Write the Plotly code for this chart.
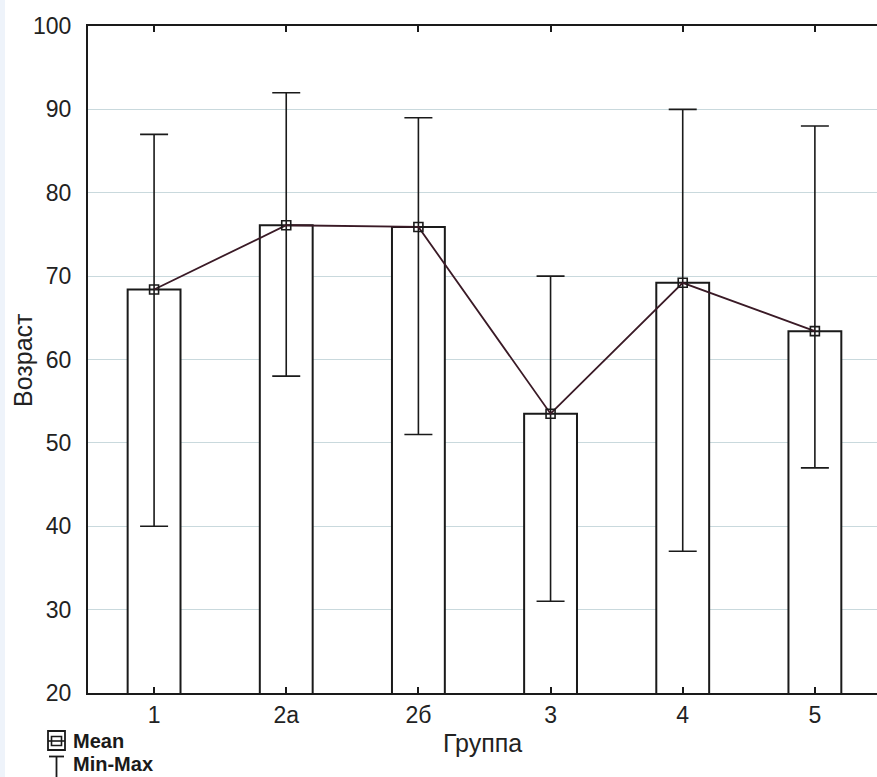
import plotly.graph_objects as go

groups = ["1", "2а", "2б", "3", "4", "5"]
mean_vals = [68.4, 76.1, 75.9, 53.5, 69.2, 63.4]
min_vals = [40, 58, 51, 31, 37, 47]
max_vals = [87, 92, 89, 70, 90, 88]
y_ticks = [20, 30, 40, 50, 60, 70, 80, 90, 100]

W, H = 877, 777
ML, MR, MT, MB = 88, 0, 26, 84
PW, PH = W - ML - MR, H - MT - MB

def px(x):
    return (x - ML) / PW

def py(y):
    return (H - MB - y) / PH

xs = list(range(len(groups)))
err_plus = [mx - m for mx, m in zip(max_vals, mean_vals)]
err_minus = [m - mn for mn, m in zip(min_vals, mean_vals)]

fig = go.Figure()
fig.add_trace(go.Bar(
    x=xs, y=mean_vals, width=0.4,
    marker=dict(color="white", line=dict(color="#1a1a1a", width=2)),
    showlegend=False, hoverinfo="skip",
))
fig.add_trace(go.Scatter(
    x=xs, y=mean_vals, mode="lines+markers",
    line=dict(color="#3a1a26", width=1.8),
    marker=dict(symbol="square-open", size=9, color="#1a1a1a", line=dict(width=1.6)),
    error_y=dict(type="data", symmetric=False, array=err_plus, arrayminus=err_minus,
                 color="#1a1a1a", thickness=1.6, width=14),
    showlegend=False,
))

font_main = "Liberation Sans, Arial, sans-serif"

fig.update_layout(
    width=W, height=H,
    margin=dict(l=ML, r=MR, t=MT, b=MB),
    plot_bgcolor="white", paper_bgcolor="white",
    font=dict(family=font_main, color="#222222"),
    xaxis=dict(
        range=[-0.5, 5.47], tickmode="array", tickvals=xs, ticktext=groups,
        showline=True, linecolor="#1a1a1a", linewidth=2, mirror="ticks",
        ticks="inside", ticklen=6, tickcolor="#1a1a1a", tickwidth=1.5,
        showgrid=False, zeroline=False,
        tickfont=dict(size=23, color="#222222"),
        title=dict(text="Группа", font=dict(size=25, color="#222222"), standoff=8),
    ),
    yaxis=dict(
        range=[20, 100], tickmode="array", tickvals=y_ticks,
        showline=True, linecolor="#1a1a1a", linewidth=2,
        ticks="", showgrid=True, gridcolor="#c9d9dd", gridwidth=1.2,
        zeroline=False, ticklabelstandoff=10,
        tickfont=dict(size=23, color="#222222"),
    ),
)

# y-axis title
fig.add_annotation(text="Возраст", xref="paper", yref="paper",
                   x=px(23), y=py(360), xanchor="center", yanchor="middle",
                   textangle=-90, showarrow=False,
                   font=dict(size=25, color="#222222", family=font_main))

# light strip at far left edge
fig.add_shape(type="rect", xref="paper", yref="paper",
              x0=px(0), x1=px(5), y0=py(H), y1=py(0),
              fillcolor="#eef3fa", line=dict(width=0), layer="below")

# legend glyphs
lc = "#1a1a1a"
fig.add_shape(type="rect", xref="paper", yref="paper",
              x0=px(48), x1=px(65), y0=py(750), y1=py(731),
              line=dict(color=lc, width=1.8))
fig.add_shape(type="rect", xref="paper", yref="paper",
              x0=px(51.5), x1=px(61.5), y0=py(745.5), y1=py(736.5),
              line=dict(color=lc, width=1.6))
fig.add_shape(type="line", xref="paper", yref="paper",
              x0=px(48), x1=px(65), y0=py(741), y1=py(741),
              line=dict(color=lc, width=1.6))
fig.add_shape(type="line", xref="paper", yref="paper",
              x0=px(49), x1=px(64), y0=py(756.5), y1=py(756.5),
              line=dict(color=lc, width=1.8))
fig.add_shape(type="line", xref="paper", yref="paper",
              x0=px(56.5), x1=px(56.5), y0=py(756.5), y1=py(777),
              line=dict(color=lc, width=1.8))

fig.add_annotation(text="<b>Mean</b>", xref="paper", yref="paper",
                   x=px(71), y=py(740.5), xanchor="left", yanchor="middle",
                   showarrow=False, font=dict(size=20, color="#1a1a1a", family=font_main))
fig.add_annotation(text="<b>Min-Max</b>", xref="paper", yref="paper",
                   x=px(71), y=py(764), xanchor="left", yanchor="middle",
                   showarrow=False, font=dict(size=20, color="#1a1a1a", family=font_main))

fig.write_html("out.html")
